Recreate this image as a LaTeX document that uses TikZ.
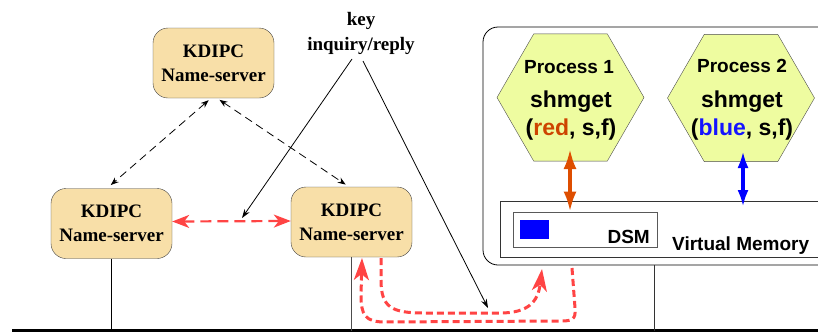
\documentclass[tikz,border=0pt]{standalone}
\usepackage{fontspec}
\setmainfont{Liberation Serif}
\setsansfont{Liberation Sans}
\usetikzlibrary{shapes.geometric,arrows.meta}
\definecolor{nsfill}{RGB}{248,223,168}
\definecolor{hexfill}{RGB}{238,252,160}
\definecolor{dred}{RGB}{255,68,68}
\definecolor{orng}{RGB}{222,78,0}
\definecolor{redtxt}{RGB}{205,68,0}
\definecolor{bluetxt}{RGB}{20,20,255}
\begin{document}
\begin{tikzpicture}[x=1pt,y=-1pt,
  nsbox/.style={draw=black!75, fill=nsfill, rounded corners=15pt, minimum width=121pt, minimum height=70pt, inner sep=0pt, align=center, font=\fontsize{19}{24}\selectfont\bfseries},
  hexbox/.style={draw=black!70, fill=hexfill, regular polygon, regular polygon sides=6, minimum size=147pt, inner sep=0pt},
  ptitle/.style={anchor=base, inner sep=0pt, font=\sffamily\bfseries\fontsize{19}{22}\selectfont},
  pline/.style={anchor=base, inner sep=0pt, font=\sffamily\bfseries\fontsize{23}{26}\selectfont},
  blkdash/.style={dashed, dash pattern=on 8pt off 5pt, line width=0.8pt, {Stealth[length=8pt,width=6pt]}-{Stealth[length=8pt,width=6pt]}},
  reddash/.style={dred, line width=2.2pt, dash pattern=on 11pt off 6pt},
  redcurve/.style={dred, line width=3pt, dash pattern=on 7pt off 4pt},
  thinline/.style={line width=0.8pt}
]
\useasboundingbox (0,0) rectangle (818,332);

% name servers
\node[nsbox] (ns1) at (213.5,63) {KDIPC\\Name-server};
\node[nsbox] (ns2) at (111.5,223.5) {KDIPC\\Name-server};
\node[nsbox] (ns3) at (351.5,222) {KDIPC\\Name-server};

% key label
\node[inner sep=0pt, align=center, font=\fontsize{19}{25}\selectfont\bfseries] (key) at (361,33) {key\\inquiry/reply};

% host box
\node[draw, thinline, rounded corners=15pt, minimum width=362pt, minimum height=238pt, inner sep=0pt] (host) at (664,146) {};
\node[draw=black!80, thinline, minimum width=345pt, minimum height=56pt, inner sep=0pt] (vm) at (672.5,229) {};
\node[draw=black!65, thinline, minimum width=144pt, minimum height=35pt, inner sep=0pt] (dsm) at (585,229.5) {};
\node[fill=blue, minimum width=29pt, minimum height=19pt, inner sep=0pt] (blk) at (534.5,229.5) {};
\node[anchor=base east, inner sep=0pt, font=\sffamily\bfseries\fontsize{19}{22}\selectfont] (dsmt) at (650,243) {DSM};
\node[anchor=base west, inner sep=0pt, font=\sffamily\bfseries\fontsize{19}{22}\selectfont] (vmt) at (672,250) {Virtual Memory};

% processes
\node[hexbox] (p1) at (570.5,97.5) {};
\node[ptitle] (p1a) at (569,73) {Process 1};
\node[pline] (p1b) at (571,107) {shmget};
\node[pline] (p1c) at (571,135) {(\textcolor{redtxt}{red}, s,f)};
\node[hexbox] (p2) at (741,98) {};
\node[ptitle] (p2a) at (742,72) {Process 2};
\node[pline] (p2b) at (742,107) {shmget};
\node[pline] (p2c) at (742,135) {(\textcolor{bluetxt}{blue}, s,f)};

% process arrows
\coordinate (o1) at (570,149);
\draw[orng, line width=3.5pt, {Latex[length=20pt,width=13pt]}-{Latex[length=20pt,width=13pt]}] (o1) -- (o1 |- dsm.north);
\coordinate (b1) at (743,151);
\coordinate (b2) at (743,207);
\draw[blue, line width=3.5pt, {Latex[length=17pt,width=11pt]}-{Latex[length=17pt,width=11pt]}] (b1) -- (b2);

% dashed black arrows between name servers
\draw[blkdash, shorten <=3pt, shorten >=5pt] ([xshift=-2.5pt]ns1.south) -- ([xshift=-4.5pt]ns2.north);
\draw[blkdash, shorten <=3pt, shorten >=4pt] ([xshift=3.5pt]ns1.south) -- ([xshift=-2.5pt]ns3.north);

% red dashed between ns2 and ns3
\draw[reddash, {Stealth[length=17pt,width=13pt,inset=5pt]}-{Stealth[length=17pt,width=13pt,inset=5pt]}] ([yshift=2pt]ns2.east) -- ([yshift=1pt]ns3.west);

% key lines
\coordinate (k1) at (352,59);
\coordinate (k1e) at (242,218);
\coordinate (k2) at (363,61);
\coordinate (k2e) at (488,308);
\draw[thinline, -{Stealth[length=9pt,width=6pt]}] (k1) -- (k1e);
\draw[thinline, -{Stealth[length=9pt,width=6pt]}] (k2) -- (k2e);

% bus
\coordinate (busL) at (12,330.5);
\coordinate (busR) at (818,330.5);
\draw[line width=3.5pt] (busL) -- (busR);
\draw[thinline] (ns2.south) -- (ns2.south |- busL);
\draw[thinline, black!70] (ns3.south) -- (ns3.south |- busL);
\coordinate (hb) at (654,265);
\draw[thinline, black!80] (hb) -- (hb |- busL);

% red curved dashed arrows
\coordinate (c1s) at (381,258);
\coordinate (c1e) at (542,269);
\draw[redcurve, -{Stealth[length=22pt,width=15pt,inset=6pt]}] (c1s) -- (381,280) .. controls (381,308) and (392,313) .. (425,313) -- (500,313) .. controls (528,313) and (538,302) .. (c1e);
\coordinate (c2s) at (572,268);
\coordinate (c2e) at (362,258);
\draw[redcurve, -{Stealth[length=22pt,width=15pt,inset=6pt]}] (c2s) -- (575,308) .. controls (576,320) and (572,321) .. (560,321) -- (385,322) .. controls (365,322) and (361,315) .. (361,295) -- (c2e);
\end{tikzpicture}
\end{document}
